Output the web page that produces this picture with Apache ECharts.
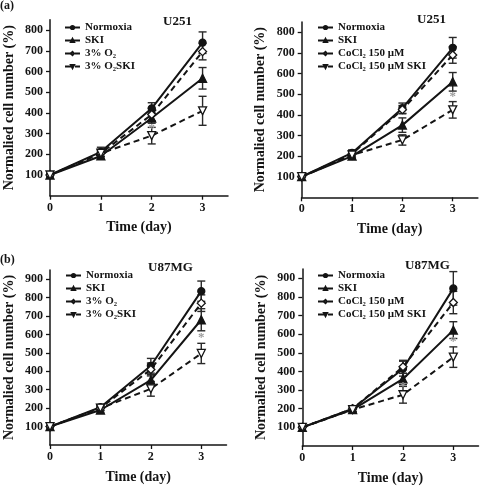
<!DOCTYPE html>
<html>
<head>
<meta charset="utf-8">
<script src="https://cdn.jsdelivr.net/npm/echarts@6/dist/echarts.min.js"></script>
<style>html,body{margin:0;padding:0;background:#fff;}#c{width:480px;height:489px;}</style>
</head>
<body>
<div id="c"></div>
<script>
// ---- data ----
const days = [0, 1, 2, 3];
const xTickLabels = [0, 1, 2, 3];
const yTicksA = [100, 200, 300, 400, 500, 600, 700, 800];
const yTicksB = [100, 200, 300, 400, 500, 600, 700, 800, 900];

const namesO2 = ['Normoxia', 'SKI', '3% O\u2082', '3% O\u2082SKI'];
const namesCo = ['Normoxia', 'SKI', 'CoCl\u2082 150 \u03bcM', 'CoCl\u2082 150 \u03bcM SKI'];

// Panel A1: U251, 3% O2
const a1Normoxia = [100, 212, 422, 739];
const a1NormoxiaErr = [0, 22, 27, 52];
const a1SKI = [100, 192, 375, 567];
const a1SKIErr = [0, 15, 25, 52];
const a1O2 = [100, 205, 392, 696];
const a1O2Err = [0, 18, 30, 40];
const a1O2SKI = [100, 205, 290, 410];
const a1O2SKIErr = [0, 15, 40, 70];
const a1Stars = [[2, 325]];

// Panel A2: U251, CoCl2
const a2Normoxia = [100, 215, 432, 725];
const a2NormoxiaErr = [0, 15, 25, 50];
const a2SKI = [100, 200, 350, 560];
const a2SKIErr = [0, 15, 35, 45];
const a2Co = [100, 210, 425, 690];
const a2CoErr = [0, 15, 20, 40];
const a2CoSKI = [100, 205, 278, 424];
const a2CoSKIErr = [0, 15, 25, 40];
const a2Stars = [[3, 488]];

// Panel B1: U87MG, 3% O2
const b1Normoxia = [100, 205, 430, 835];
const b1NormoxiaErr = [0, 15, 40, 55];
const b1SKI = [100, 190, 352, 680];
const b1SKIErr = [0, 15, 30, 60];
const b1O2 = [100, 200, 410, 770];
const b1O2Err = [0, 15, 35, 45];
const b1O2SKI = [100, 200, 305, 497];
const b1O2SKIErr = [0, 12, 40, 55];
const b1Stars = [[3, 585]];

// Panel B2: U87MG, CoCl2
const b2Normoxia = [100, 200, 415, 846];
const b2NormoxiaErr = [0, 15, 40, 90];
const b2SKI = [100, 195, 360, 622];
const b2SKIErr = [0, 15, 30, 45];
const b2Co = [100, 200, 425, 770];
const b2CoErr = [0, 15, 35, 60];
const b2CoSKI = [100, 195, 275, 477];
const b2CoSKIErr = [0, 12, 45, 55];
const b2Stars = [[3, 558], [2, 320]];

// ---- chart ----
const FONT = '"Liberation Serif", "DejaVu Serif", serif';
const INK = '#141414';

const panels = [
  { grid: { left: 50, top: 19.7, width: 178, height: 176 }, yMax: 850, yTicks: yTicksA, names: namesO2,
    vals: [a1Normoxia, a1SKI, a1O2, a1O2SKI], errs: [a1NormoxiaErr, a1SKIErr, a1O2Err, a1O2SKIErr], stars: a1Stars,
    legend: { left: 59, top: 17 } },
  { grid: { left: 301.7, top: 22, width: 176.2, height: 175.3 }, yMax: 850, yTicks: yTicksA, names: namesCo,
    vals: [a2Normoxia, a2SKI, a2Co, a2CoSKI], errs: [a2NormoxiaErr, a2SKIErr, a2CoErr, a2CoSKIErr], stars: a2Stars,
    legend: { left: 312, top: 17 } },
  { grid: { left: 50, top: 270, width: 176.5, height: 175 }, yMax: 950, yTicks: yTicksB, names: namesO2,
    vals: [b1Normoxia, b1SKI, b1O2, b1O2SKI], errs: [b1NormoxiaErr, b1SKIErr, b1O2Err, b1O2SKIErr], stars: b1Stars,
    legend: { left: 60, top: 265 } },
  { grid: { left: 302.3, top: 269, width: 176.2, height: 177 }, yMax: 950, yTicks: yTicksB, names: namesCo,
    vals: [b2Normoxia, b2SKI, b2Co, b2CoSKI], errs: [b2NormoxiaErr, b2SKIErr, b2CoErr, b2CoSKIErr], stars: b2Stars,
    legend: { left: 312, top: 265 } }
];

const styles = [
  { symbol: 'circle', size: 7, fill: INK, dash: 'solid', rot: 0 },
  { symbol: 'triangle', size: 8, fill: INK, dash: 'solid', rot: 0 },
  { symbol: 'diamond', size: 8, fill: '#fff', dash: [6, 4], rot: 0 },
  { symbol: 'triangle', size: 8, fill: '#fff', dash: [6, 4], rot: 180 }
];

function errRender(params, api) {
  const x = api.value(0), lo = api.value(1), hi = api.value(2);
  if (hi - lo <= 0) return null;
  const p1 = api.coord([x, hi]), p2 = api.coord([x, lo]);
  const w = 4;
  const st = { stroke: '#2a2a2a', lineWidth: 1.4 };
  return { type: 'group', children: [
    { type: 'line', shape: { x1: p1[0], y1: p1[1], x2: p2[0], y2: p2[1] }, style: st },
    { type: 'line', shape: { x1: p1[0] - w, y1: p1[1], x2: p1[0] + w, y2: p1[1] }, style: st },
    { type: 'line', shape: { x1: p2[0] - w, y1: p2[1], x2: p2[0] + w, y2: p2[1] }, style: st }
  ]};
}
function starRender(params, api) {
  const p = api.coord([api.value(0), api.value(1)]);
  return { type: 'text', x: p[0], y: p[1], style: { text: '*', fill: '#9a9a9a', font: 'bold 13px ' + FONT, align: 'center', verticalAlign: 'middle' } };
}

const option = {
  animation: false,
  backgroundColor: '#fff',
  grid: [], xAxis: [], yAxis: [], legend: [], series: [],
  graphic: [
    { type: 'text', left: 0, top: 0, style: { text: '(a)', font: 'bold 12px ' + FONT, fill: INK } },
    { type: 'text', left: 0, top: 254, style: { text: '(b)', font: 'bold 12px ' + FONT, fill: INK } },
    { type: 'text', left: 163, top: 15, style: { text: 'U251', font: 'bold 13px ' + FONT, fill: INK } },
    { type: 'text', left: 417, top: 13, style: { text: 'U251', font: 'bold 13px ' + FONT, fill: INK } },
    { type: 'text', left: 148, top: 261, style: { text: 'U87MG', font: 'bold 13px ' + FONT, fill: INK } },
    { type: 'text', left: 405, top: 259, style: { text: 'U87MG', font: 'bold 13px ' + FONT, fill: INK } }
  ]
};

panels.forEach((p, i) => {
  option.grid.push(Object.assign({ containLabel: false, outerBoundsMode: 'none' }, p.grid));
  option.xAxis.push({
    type: 'value', gridIndex: i, min: 0, max: 3.5,
    name: 'Time (day)', nameLocation: 'middle', nameGap: 25,
    nameTextStyle: { fontFamily: FONT, fontWeight: 'bold', fontSize: 14, color: INK },
    axisLine: { lineStyle: { color: INK, width: 1.5 } },
    axisTick: { show: true, length: 4, lineStyle: { color: INK, width: 1.3 }, customValues: xTickLabels },
    axisLabel: { margin: 6, fontFamily: FONT, fontWeight: 'bold', fontSize: 12, color: INK, customValues: xTickLabels },
    splitLine: { show: false }
  });
  option.yAxis.push({
    type: 'value', gridIndex: i, min: 0, max: p.yMax,
    name: 'Normalied cell number (%)', nameLocation: 'middle', nameGap: 34,
    nameTextStyle: { fontFamily: FONT, fontWeight: 'bold', fontSize: 14, color: INK },
    axisLine: { show: true, lineStyle: { color: INK, width: 1.5 } },
    axisTick: { show: true, length: 4, lineStyle: { color: INK, width: 1.3 }, customValues: p.yTicks },
    axisLabel: { margin: 7, fontFamily: FONT, fontWeight: 'bold', fontSize: 12, color: INK, customValues: p.yTicks },
    splitLine: { show: false }
  });
  option.legend.push({
    orient: 'vertical', left: p.legend.left, top: p.legend.top,
    itemWidth: 15, itemHeight: 4, itemGap: 2,
    textStyle: { fontFamily: FONT, fontWeight: 'bold', fontSize: 11, color: INK, lineHeight: 9 },
    data: p.names.slice()
  });
  p.names.forEach((nm, k) => {
    const s = styles[k];
    option.series.push({
      type: 'custom', xAxisIndex: i, yAxisIndex: i, silent: true, z: 1,
      renderItem: errRender, encode: { x: 0, y: [1, 2] },
      data: days.map((d, j) => [d, p.vals[k][j] - p.errs[k][j], p.vals[k][j] + p.errs[k][j]])
    });
    option.series.push({
      type: 'line', name: nm, xAxisIndex: i, yAxisIndex: i, z: 3,
      data: days.map((d, j) => [d, p.vals[k][j]]),
      symbol: s.symbol, symbolSize: s.size, symbolRotate: s.rot, showAllSymbol: true,
      lineStyle: { color: INK, width: 2, type: s.dash },
      itemStyle: { color: s.fill, borderColor: INK, borderWidth: 1.3 }
    });
  });
  option.series.push({
    type: 'custom', xAxisIndex: i, yAxisIndex: i, silent: true, z: 4,
    renderItem: starRender, encode: { x: 0, y: 1 }, data: p.stars
  });
});

const chart = echarts.init(document.getElementById('c'), null, { renderer: 'canvas' });
chart.setOption(option);
</script>
</body>
</html>
